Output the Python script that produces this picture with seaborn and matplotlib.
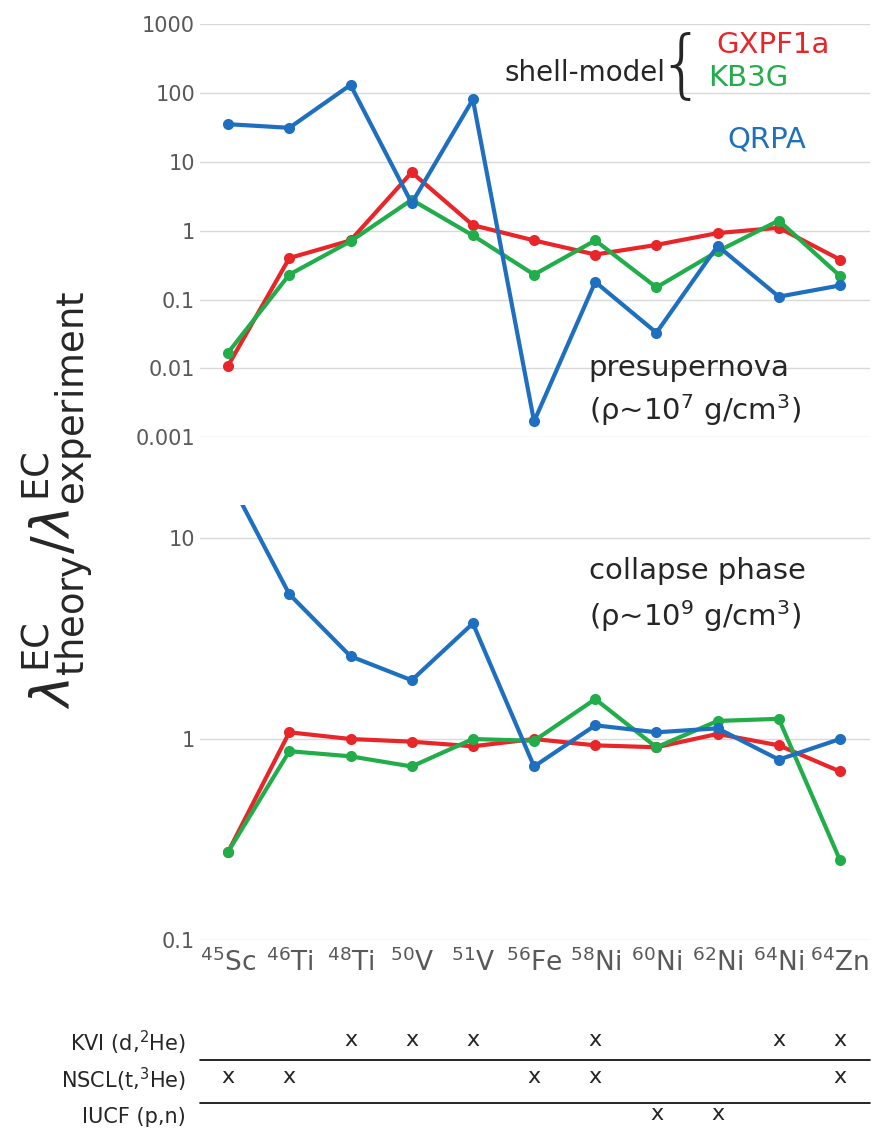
import numpy as np
import pandas as pd
import matplotlib
matplotlib.use("Agg")
import matplotlib.pyplot as plt
import matplotlib.transforms as mtransforms
import seaborn as sns

nuclei = [r"$^{45}$Sc", r"$^{46}$Ti", r"$^{48}$Ti", r"$^{50}$V", r"$^{51}$V", r"$^{56}$Fe",
          r"$^{58}$Ni", r"$^{60}$Ni", r"$^{62}$Ni", r"$^{64}$Ni", r"$^{64}$Zn"]

# presupernova ratios
pre_gxpf1a = [0.011, 0.40, 0.72, 7.0, 1.2, 0.72, 0.45, 0.62, 0.92, 1.1, 0.38]
pre_kb3g = [0.017, 0.23, 0.70, 2.8, 0.85, 0.23, 0.72, 0.15, 0.50, 1.4, 0.22]
pre_qrpa = [35, 31, 130, 2.5, 80, 0.0017, 0.18, 0.033, 0.60, 0.11, 0.16]

# collapse phase ratios
col_gxpf1a = [0.275, 1.08, 1.0, 0.97, 0.92, 1.0, 0.93, 0.91, 1.06, 0.93, 0.69]
col_kb3g = [0.275, 0.87, 0.82, 0.73, 1.0, 0.98, 1.58, 0.91, 1.23, 1.26, 0.25]
col_qrpa = [20, 5.25, 2.58, 1.96, 3.76, 0.73, 1.17, 1.08, 1.13, 0.79, 1.0]

kvi = [0, 0, 1, 1, 1, 0, 1, 0, 0, 1, 1]
nscl = [1, 1, 0, 0, 0, 1, 1, 0, 0, 0, 1]
iucf = [0, 0, 0, 0, 0, 0, 0, 1, 1, 0, 0]

models = ["GXPF1a", "KB3G", "QRPA"]
colors = {"GXPF1a": "#e8262a", "KB3G": "#22ad4b", "QRPA": "#1f6fc0"}

sns.set_theme(style="white")
plt.rcParams['font.family'] = ['DejaVu Sans']

def make_df(a, b, c):
    rows = []
    for m, vals in zip(models, [a, b, c]):
        for i, v in enumerate(vals):
            rows.append({"idx": i, "val": v, "model": m})
    return pd.DataFrame(rows)

fig = plt.figure(figsize=(8.85, 11.36), dpi=100)
ax1 = fig.add_axes([0.226, 0.615, 0.757, 0.364])
ax2 = fig.add_axes([0.226, 0.1725, 0.757, 0.383])

grey = "#595959"
for ax, df, ylim, ticks, labels in [
    (ax1, make_df(pre_gxpf1a, pre_kb3g, pre_qrpa), (0.001, 1000),
     [0.001, 0.01, 0.1, 1, 10, 100, 1000], ["0.001", "0.01", "0.1", "1", "10", "100", "1000"]),
    (ax2, make_df(col_gxpf1a, col_kb3g, col_qrpa), (0.1, 14.6),
     [0.1, 1, 10], ["0.1", "1", "10"])]:
    ax.set_yscale("log")
    for y in ticks:
        ax.axhline(y, color="#d9d9d9", lw=1, zorder=0)
    sns.lineplot(data=df, x="idx", y="val", hue="model", palette=colors, ax=ax,
                 lw=3, marker="o", markersize=8, markeredgewidth=0, legend=False)
    ax.set_ylim(*ylim)
    ax.set_xlim(-0.46, 10.49)
    ax.set_yticks(ticks)
    ax.set_yticklabels(labels)
    ax.minorticks_off()
    ax.tick_params(axis="y", labelsize=15, labelcolor=grey, length=0)
    for s in ax.spines.values():
        s.set_visible(False)
    ax.set_xlabel("")
    ax.set_ylabel("")

ax1.set_xticks([])
ax2.set_xticks(range(len(nuclei)))
ax2.set_xticklabels(nuclei, fontsize=19, color=grey)
ax2.tick_params(axis="x", length=0, pad=6)

fig.text(0.065, 0.56, r"$\lambda^{\rm EC}_{\rm theory}/\lambda^{\rm EC}_{\rm experiment}$",
         rotation=90, fontsize=38, ha="center", va="center")

# legend texts
fig.text(0.752, 0.936, "shell-model", fontsize=20, ha="right", va="center")
fig.text(0.770, 0.940, "{", fontsize=54, ha="center", va="center", fontweight="light")
fig.text(0.81, 0.960, "GXPF1a", fontsize=21, color=colors["GXPF1a"], va="center")
fig.text(0.80, 0.931, "KB3G", fontsize=21, color=colors["KB3G"], va="center")
fig.text(0.822, 0.877, "QRPA", fontsize=21, color=colors["QRPA"], va="center")

fig.text(0.665, 0.676, "presupernova", fontsize=21, va="center")
fig.text(0.665, 0.639, "(ρ~10$^7$ g/cm$^3$)", fontsize=21, va="center")
fig.text(0.665, 0.497, "collapse phase", fontsize=21, va="center")
fig.text(0.665, 0.458, "(ρ~10$^9$ g/cm$^3$)", fontsize=21, va="center")

# experiment table
trans = mtransforms.blended_transform_factory(ax2.transData, fig.transFigure)
rows = [("KVI (d,$^2$He)", kvi, 1 - 1043 / 1136), ("NSCL(t,$^3$He)", nscl, 1 - 1080 / 1136),
        ("IUCF (p,n)", iucf, 1 - 1117 / 1136)]
for label, flags, y in rows:
    fig.text(0.21, y, label, fontsize=15, ha="right", va="center")
    for i, f in enumerate(flags):
        if f:
            fig.text(i, y + 0.003, "x", fontsize=16, ha="center", va="center", transform=trans)
for y in [1 - 1060 / 1136, 1 - 1103 / 1136]:
    fig.add_artist(plt.Line2D([0.226, 0.983], [y, y], color="black", lw=1.2))

fig.savefig("out.png", dpi=100)
